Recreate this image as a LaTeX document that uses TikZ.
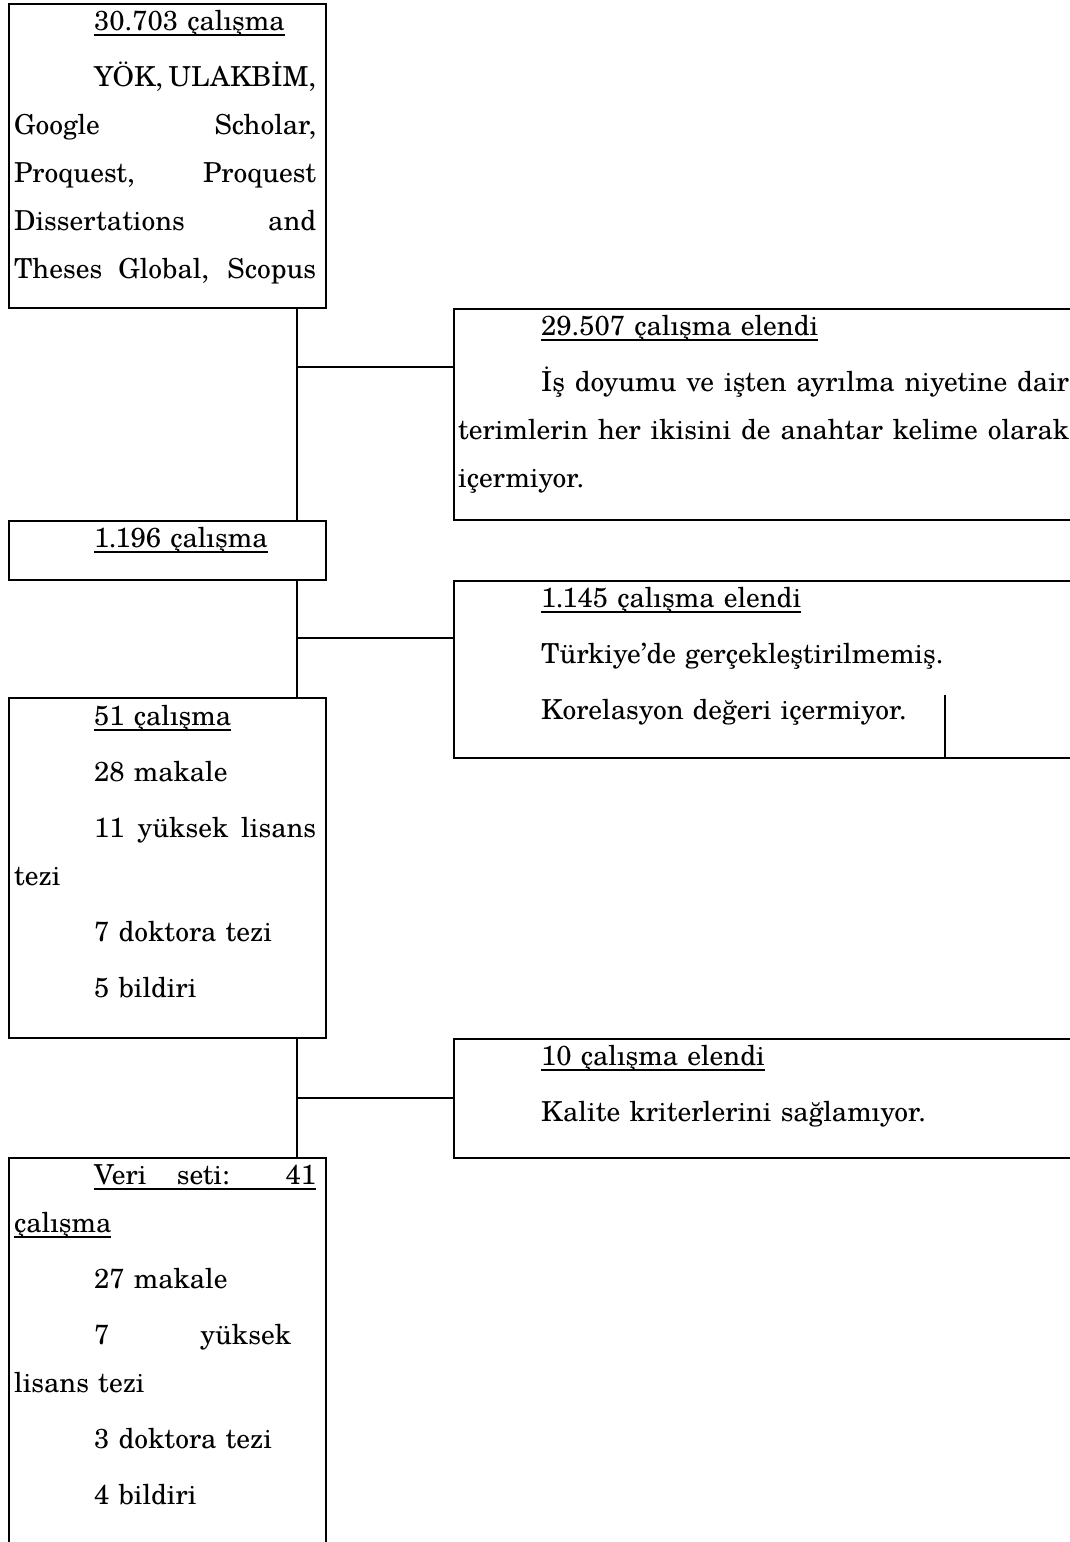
\documentclass[tikz,border=0pt]{standalone}
\usepackage{fontspec}
\setmainfont{TeX Gyre Schola}
\usepackage{tikz}

\newcommand{\px}{0.4pt}
\newcommand{\indL}{32pt}
\newcommand{\indR}{33.2pt}
\newcommand{\fl}{\noindent\rule{0pt}{10pt}}
% justified line of a given width
\newcommand{\jl}[2]{\makebox[#1][s]{\spaceskip=0pt\xspaceskip=0pt #2}}
% thicker underline
\newcommand{\ul}[1]{\leavevmode\setbox0\hbox{#1}\rlap{\rule[-2.2pt]{\wd0}{0.75pt}}\box0}

\begin{document}
\begin{tikzpicture}[x=\px, y=-\px, line width=0.9pt]
	\tikzstyle{every node}=[inner sep=0pt, font=\fontsize{11}{19.2}\selectfont]
	\tikzstyle{box}=[draw, anchor=north west, minimum width=317*\px]
	\tikzstyle{exbox}=[draw, anchor=north west, minimum width=700*\px]
	\tikzstyle{ltxt}=[anchor=north west, align=left, text width=120.8pt]
	\tikzstyle{rtxt}=[anchor=north west, align=left, text width=244.4pt]
	\useasboundingbox (0,0) rectangle (1070,1542);
	\clip (0,0) rectangle (1070,1542);
	% boxes
	\node[box, minimum height=304*\px] (s0) at (8,3) {};
	\node[exbox, minimum height=211*\px] (e1) at (453,308) {};
	\node[box, minimum height=59*\px] (s1) at (8,520) {};
	\node[exbox, minimum height=177*\px] (e2) at (453,580) {};
	\node[box, minimum height=340*\px] (s2) at (8,697) {};
	\node[exbox, minimum height=119*\px] (e3) at (453,1038) {};
	\node[box, minimum height=500*\px] (s3) at (8,1157) {};
	% texts
	\node[ltxt] (s0t) at (13,4) {\fl\hspace*{\indL}\ul{30.703 çalışma}\\[3.2pt]
		\hspace*{\indL}\jl{88.8pt}{YÖK, ULAKBİM,}\\
		\jl{120.8pt}{Google Scholar,}\\
		\jl{120.8pt}{Proquest, Proquest}\\
		\jl{120.8pt}{Dissertations and}\\
		\jl{120.8pt}{Theses Global, Scopus}};
	\node[rtxt] (e1t) at (457,309) {\fl\hspace*{\indR}\ul{29.507 çalışma elendi}\\[3.2pt]
		\hspace*{\indR}\jl{211.2pt}{İş doyumu ve işten ayrılma niyetine dair}\\
		\jl{244.4pt}{terimlerin her ikisini de anahtar kelime olarak}\\
		içermiyor.};
	\node[ltxt] (s1t) at (13,521) {\fl\hspace*{\indL}\ul{1.196 çalışma}};
	\node[rtxt] (e2t) at (457,581) {\fl\hspace*{\indR}\ul{1.145 çalışma elendi}\\[3.2pt]
		\hspace*{\indR}Türkiye’de gerçekleştirilmemiş.\\[3.2pt]
		\hspace*{\indR}Korelasyon değeri içermiyor.};
	\node[ltxt] (s2t) at (13,699) {\fl\hspace*{\indL}\ul{51 çalışma}\\[3.2pt]
		\hspace*{\indL}28 makale\\[3.2pt]
		\hspace*{\indL}\jl{88.8pt}{11 yüksek lisans}\\
		tezi\\[3.2pt]
		\hspace*{\indL}7 doktora tezi\\[3.2pt]
		\hspace*{\indL}5 bildiri};
	\node[rtxt] (e3t) at (457,1039) {\fl\hspace*{\indR}\ul{10 çalışma elendi}\\[3.2pt]
		\hspace*{\indR}Kalite kriterlerini sağlamıyor.};
	\node[ltxt] (s3t) at (13,1158) {\fl\hspace*{\indL}\ul{\jl{88.8pt}{Veri seti: 41}}\\
		\ul{çalışma}\\[3.2pt]
		\hspace*{\indL}27 makale\\[3.2pt]
		\hspace*{\indL}\jl{78.8pt}{7 yüksek}\\
		lisans tezi\\[3.2pt]
		\hspace*{\indL}3 doktora tezi\\[3.2pt]
		\hspace*{\indL}4 bildiri};
	% connectors
	\coordinate (sp) at (297,0);
	\draw (s0.south -| sp) -- (s1.north -| sp);
	\draw (s1.south -| sp) -- (s2.north -| sp);
	\draw (s2.south -| sp) -- (s3.north -| sp);
	\coordinate (j1) at (297,367);
	\coordinate (j2) at (297,638);
	\coordinate (j3) at (297,1098);
	\draw (j1) -- (j1 -| e1.west);
	\draw (j2) -- (j2 -| e2.west);
	\draw (j3) -- (j3 -| e3.west);
	\coordinate (k) at (945,695);
	\draw (k) -- (k |- e2.south);
\end{tikzpicture}
\end{document}
